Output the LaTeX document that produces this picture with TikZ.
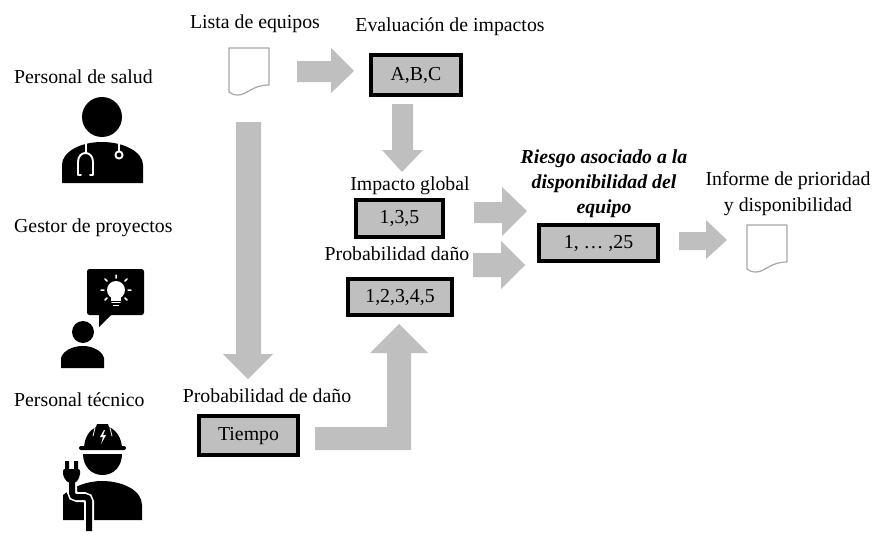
\documentclass[tikz,border=0pt]{standalone}
\usepackage{fontspec}
\setmainfont{Liberation Serif}
\definecolor{arrowgray}{HTML}{BFBFBF}
\definecolor{sheetgray}{HTML}{A6A6A6}
\tikzset{
  label/.style={inner sep=0pt,font=\fontsize{19.8}{26}\selectfont},
  valuebox/.style={draw=black,line width=3.8pt,fill=arrowgray,inner sep=0pt,text height=13pt,text depth=3pt,font=\fontsize{19.8}{26}\selectfont},
  blockarrow/.style={fill=arrowgray},
  sheet/.style={draw=sheetgray,line width=1.2pt,fill=white,line join=round},
  cutline/.style={draw=white,line cap=round,line join=round}
}
\begin{document}
\begin{tikzpicture}[x=1pt,y=-1pt]
  \useasboundingbox (0,0) rectangle (889,538);

  % people
  %labels
  \node[label,anchor=west,at={(14,77)}](salud){Personal de salud};
  \node[label,anchor=west,at={(14,228)}](gestor){Gestor de proyectos};
  \node[label,anchor=west,at={(14,400)}](tecnico){Personal t\'ecnico};
  %doctor
  \fill (102,117) circle (20);
  \fill (62,183) -- (62,165) .. controls (62,152) and (80,142) .. (102,142) .. controls (124,142) and (143,152) .. (143,165) -- (143,183) -- cycle;
  \draw[cutline,line width=1.9pt] (86,143) -- (86,153);
  \draw[cutline,line width=1.9pt] (81,175) -- (78,175) -- (78,162) .. controls (78,150) and (93,150) .. (93,162) -- (93,175) -- (90,175);
  \draw[cutline,line width=1.9pt] (119,143) -- (119,151);
  \draw[cutline,line width=1.9pt] (119,155) circle (3.6);
  %manager
  \fill[rounded corners=2.5pt] (87,269) rectangle (144,315);
  \fill (99,312) -- (99,327) -- (112,314) -- cycle;
  \fill (83,332) circle (11);
  \fill (61,368) -- (61,358) .. controls (63,351) and (72,346) .. (83,346) .. controls (93,346) and (102,351) .. (104,358) -- (104,368) -- cycle;
  \fill[white] (116,290) circle (9);
  \fill[white] (111,295) rectangle (121,301);
  \draw[cutline,line width=1.5pt] (112,302.5) -- (120,302.5) (113.5,305.5) -- (118.5,305.5);
  \draw[cutline,line width=1.5pt] (116,275) -- (116,278) (105,279) -- (107,281) (127,279) -- (125,281) (101,290) -- (104,290) (128,290) -- (131,290) (105,300) -- (107,298) (127,300) -- (125,298);
  %technician
  \fill[rounded corners=2pt] (79,446) rectangle (126,450);
  \fill (84,447) .. controls (85,436) and (90,430) .. (96,427) -- (97,424) -- (108,424) -- (109,427) .. controls (116,430) and (121,437) .. (122,447) -- cycle;
  \fill[white] (104,430) -- (100,437) -- (103,437) -- (101,444) -- (106,435) -- (103,435) -- (105,430) -- cycle;
  \draw[cutline,line width=0.8pt] (95,428) -- (93,436) (110,428) -- (112,436);
  \fill (83,454) -- (122,454) .. controls (122,466) and (114,475) .. (102.5,475) .. controls (91,475) and (83,466) .. (83,454) -- cycle;
  \fill (63,520) -- (63,495) -- (70,490) .. controls (78,485) and (90,481) .. (102,481) .. controls (122,481) and (142,490) .. (142,505) -- (142,520) -- cycle;
  \draw[white,line width=10pt,rounded corners=5pt] (72,476) -- (72,497) -- (89,497) -- (89,524);
  \draw[line width=6pt,rounded corners=4pt] (72,476) -- (72,497) -- (89,497) -- (89,531);
  \fill[rounded corners=2pt] (63,469) -- (80,469) -- (80,476) -- (76,483) -- (68,483) -- (63,476) -- cycle;
  \fill (65,461) rectangle (69,471) (74,461) rectangle (78,471);

  % top
  %sheet
  \node[label,at={(255,24)}](lista){Lista de equipos};
  \draw[sheet] (229,48) -- (269,48) -- (269,85) .. controls (252,85) and (247,95) .. (238,95) .. controls (234,95) and (231,94) .. (229,92) -- cycle;
  %arrow
  \fill[blockarrow] (297,61) -- (331,61) -- (331,48) -- (354,71) -- (331,93) -- (331,82) -- (297,82) -- cycle;
  %box
  \node[label,at={(450,27)}](evaluacion){Evaluaci\'on de impactos};
  \node[valuebox,minimum width=90.6pt,minimum height=40.6pt,at={(416,75)}](abc){A,B,C};
  \fill[blockarrow] (392,104) -- (413,104) -- (413,150) -- (423,150) -- (402,172) -- (382,150) -- (392,150) -- cycle;

  % main
  %boxes
  \node[label,at={(410,186)}](impacto){Impacto global};
  \node[valuebox,minimum width=87.6pt,minimum height=37.6pt,at={(399.5,218.5)}](global){1,3,5};
  \node[label,at={(397,254)}](probabilidad){Probabilidad da\~no};
  \node[valuebox,minimum width=104.6pt,minimum height=36.6pt,at={(400,297)}](dano){1,2,3,4,5};
  %arrows
  \fill[blockarrow] (474,202) -- (502,202) -- (502,187) -- (527,211) -- (502,236) -- (502,223) -- (474,223) -- cycle;
  \fill[blockarrow] (473,253) -- (501,253) -- (501,241) -- (525,265) -- (501,289) -- (501,277) -- (473,277) -- cycle;

  % right
  %boxes
  \node[label,align=center,font=\fontsize{19.8}{25}\selectfont\bfseries\itshape,at={(604,184)}](riesgo){Riesgo asociado a la\\disponibilidad del\\equipo};
  \node[valuebox,minimum width=119.6pt,minimum height=36.6pt,at={(598.5,243)}](total){1, \dots\ ,25};
  %sheet
  \fill[blockarrow] (679,232) -- (706,232) -- (706,220) -- (727,240) -- (706,259) -- (706,250) -- (679,250) -- cycle;
  \node[label,align=center,at={(788,194)}](informe){Informe de prioridad\\y disponibilidad};
  \draw[sheet] (747,225) -- (787,225) -- (787,262) .. controls (770,262) and (765,272) .. (756,272) .. controls (752,272) and (749,271) .. (747,269) -- cycle;

  % bottom
  %arrows
  \fill[blockarrow] (236,122) -- (261,122) -- (261,354) -- (273,354) -- (248,379) -- (223,354) -- (236,354) -- cycle;
  \fill[blockarrow] (315,427) -- (387,427) -- (387,353) -- (370,353) -- (399,324) -- (428,353) -- (411,353) -- (411,450) -- (315,450) -- cycle;
  %box
  \node[label,at={(267,396)}](probdano){Probabilidad de da\~no};
  \node[valuebox,minimum width=99.6pt,minimum height=39.6pt,at={(248.5,435.5)}](tiempo){Tiempo};
\end{tikzpicture}
\end{document}
